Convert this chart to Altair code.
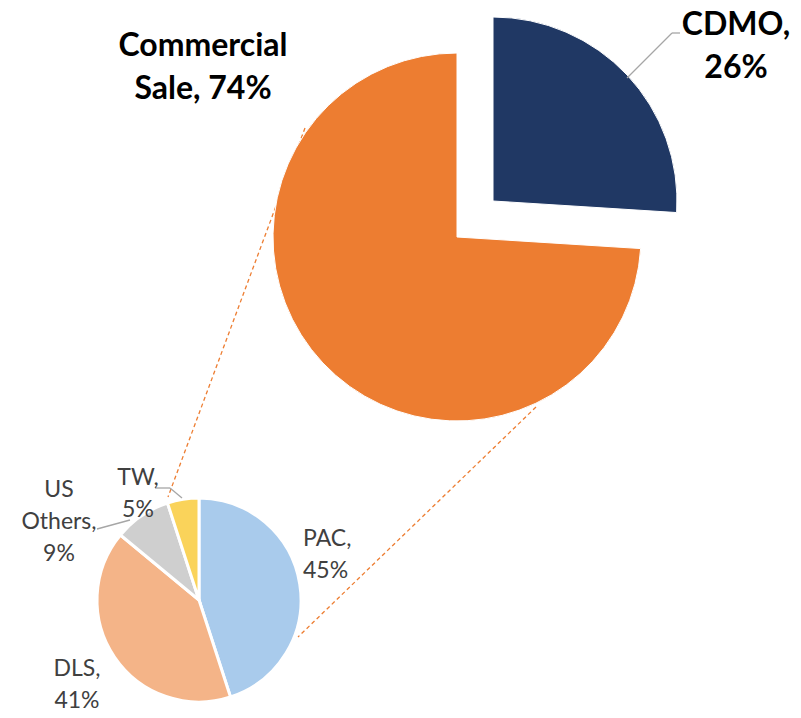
import altair as alt
import pandas as pd

# ---- data ----
main_labels = ["CDMO", "Commercial Sale"]
main_values = [26, 74]
sub_labels = ["PAC", "DLS", "US Others", "TW"]
sub_values = [45, 41, 9, 5]

# ---- style / layout ----
W, H = 801, 718
colors = {
    "CDMO": "#203864",
    "Commercial Sale": "#ED7D31",
    "PAC": "#A9CBEC",
    "DLS": "#F4B488",
    "US Others": "#CFCFCF",
    "TW": "#FAD35A",
}
BIG_C = (457, 237)
BIG_R = 184
EXPLODE_C = (493, 201)
SMALL_C = (199, 600)
SMALL_R = 102
FONT = "Lato"

label_lines = {
    "CDMO": ["CDMO,", "{v}%"],
    "Commercial Sale": ["Commercial", "Sale, {v}%"],
    "PAC": ["PAC,", "{v}%"],
    "DLS": ["DLS,", "{v}%"],
    "US Others": ["US", "Others,", "{v}%"],
    "TW": ["TW,", "{v}%"],
}
# (x, y of first line, align)
label_pos = {
    "CDMO": (736, 25, "center"),
    "Commercial Sale": (203, 46, "center"),
    "PAC": (303, 539, "left"),
    "DLS": (77, 669, "center"),
    "US Others": (59, 490, "center"),
    "TW": (138, 478, "center"),
}

main_df = pd.DataFrame({"label": main_labels, "value": main_values, "idx": range(len(main_labels))})
sub_df = pd.DataFrame({"label": sub_labels, "value": sub_values, "idx": range(len(sub_labels))})

xs = alt.Scale(domain=[0, W], range=[0, W])
ys = alt.Scale(domain=[0, H], range=[0, H])
cscale = alt.Scale(domain=list(colors.keys()), range=list(colors.values()))


def pie(df, center, radius, stroke_w, opacity=None):
    enc = dict(
        theta=alt.Theta("value:Q", stack=True),
        order=alt.Order("idx:Q"),
        color=alt.Color("label:N", scale=cscale, legend=None),
        x=alt.value(center[0]),
        y=alt.value(center[1]),
    )
    if opacity is not None:
        enc["opacity"] = opacity
    return alt.Chart(df).mark_arc(radius=radius, stroke="white", strokeWidth=stroke_w).encode(**enc)


big_rest = pie(main_df, BIG_C, BIG_R, 1,
               alt.condition("datum.label == 'CDMO'", alt.value(0), alt.value(1)))
big_expl = pie(main_df, EXPLODE_C, BIG_R, 1,
               alt.condition("datum.label == 'CDMO'", alt.value(1), alt.value(0)))
small = pie(sub_df, SMALL_C, SMALL_R, 3)

# connector (dashed) lines between the pies
conn_df = pd.DataFrame({
    "x": [305, 536], "y": [128, 407],
    "x2": [168, 298], "y2": [497, 637],
})
conn = alt.Chart(conn_df).mark_rule(color="#ED7D31", strokeWidth=1.3, strokeDash=[4, 3]).encode(
    x=alt.X("x:Q", scale=xs, axis=None), y=alt.Y("y:Q", scale=ys, axis=None),
    x2="x2:Q", y2="y2:Q",
)

# leader lines
lead_df = pd.DataFrame({
    "x": [627, 672, 97, 155, 170],
    "y": [78, 33, 529, 488, 488],
    "x2": [672, 680, 130, 170, 182],
    "y2": [33, 33, 520, 488, 498],
})
lead = alt.Chart(lead_df).mark_rule(color="#A6A6A6", strokeWidth=1.3).encode(
    x=alt.X("x:Q", scale=xs, axis=None), y=alt.Y("y:Q", scale=ys, axis=None),
    x2="x2:Q", y2="y2:Q",
)

val_map = dict(zip(main_labels + sub_labels, main_values + sub_values))


def text_layer(names, size, weight, color, lh):
    rows = []
    for n in names:
        x, y, al = label_pos[n]
        rows.append({"x": x, "y": y, "align": al,
                     "t": "\n".join(s.format(v=val_map[n]) for s in label_lines[n])})
    df = pd.DataFrame(rows)
    layers = []
    for al in ["left", "center"]:
        d = df[df["align"] == al]
        if len(d) == 0:
            continue
        layers.append(alt.Chart(d).mark_text(
            font=FONT, fontSize=size, fontWeight=weight, color=color, align=al,
            baseline="middle", lineBreak="\n", lineHeight=lh,
        ).encode(x=alt.X("x:Q", scale=xs, axis=None), y=alt.Y("y:Q", scale=ys, axis=None), text="t:N"))
    return layers


big_text = text_layer(main_labels, 32, "bold", "#000000", 43)
small_text = text_layer(sub_labels, 23, "normal", "#404040", 32)

chart = alt.layer(
    conn, big_rest, big_expl, small, lead, *big_text, *small_text
).properties(
    width=W, height=H, padding=0, autosize=alt.AutoSizeParams(type="none")
).configure_view(stroke=None)

chart.save("out.html", embed_options={"renderer": "svg", "actions": False})
